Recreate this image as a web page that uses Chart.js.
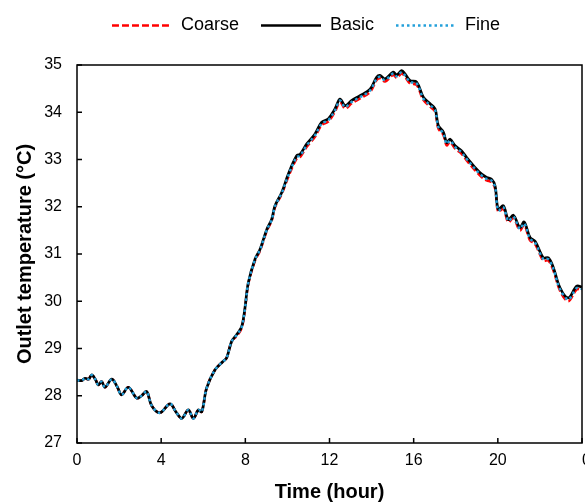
<!DOCTYPE html>
<html>
<head>
<meta charset="utf-8">
<script src="https://cdn.jsdelivr.net/npm/chart.js@4/dist/chart.umd.min.js"></script>
<style>
  body { margin: 0; background: #fff; }
</style>
</head>
<body>
<canvas id="tempChart" width="585" height="503"></canvas>
<script>
// time of day (hour) and outlet temperature (°C)
const hours = [0, 0.22, 0.38, 0.55, 0.70, 0.88, 1.01, 1.17, 1.33, 1.65,
  1.90, 2.12, 2.44, 2.84, 3.07, 3.31, 3.55, 3.94, 4.42, 4.70,
  4.98, 5.29, 5.53, 5.77, 5.93, 6.16, 6.56, 6.95, 7.11, 7.35,
  7.60, 7.83, 7.98, 8.14, 8.46, 8.70, 9.02, 9.25, 9.41, 9.73,
  10.04, 10.44, 10.60, 10.92, 11.31, 11.63, 11.94, 12.26, 12.50, 12.74,
  13.06, 13.45, 13.93, 14.24, 14.40, 14.64, 15.03, 15.19, 15.43, 15.59,
  15.83, 16.14, 16.46, 16.78, 17.02, 17.17, 17.41, 17.57, 17.73, 17.97,
  18.28, 18.52, 18.92, 19.23, 19.47, 19.71, 19.87, 20.02, 20.26, 20.50,
  20.74, 21.05, 21.25, 21.53, 21.77, 22.16, 22.40, 22.64, 22.96, 23.35,
  23.75, 24.00];

const basic = [28.33, 28.32, 28.37, 28.35, 28.44, 28.34, 28.23, 28.30, 28.18, 28.35,
  28.20, 28.02, 28.18, 27.95, 28.00, 28.09, 27.79, 27.64, 27.83, 27.66,
  27.52, 27.70, 27.52, 27.70, 27.66, 28.16, 28.55, 28.73, 28.80, 29.15,
  29.30, 29.47, 29.85, 30.39, 30.89, 31.10, 31.52, 31.73, 32.02, 32.30,
  32.69, 33.08, 33.11, 33.33, 33.54, 33.79, 33.86, 34.07, 34.28, 34.14,
  34.25, 34.35, 34.49, 34.74, 34.78, 34.71, 34.85, 34.79, 34.88, 34.81,
  34.67, 34.64, 34.32, 34.18, 34.07, 33.72, 33.58, 33.36, 33.43, 33.29,
  33.18, 33.04, 32.83, 32.69, 32.62, 32.58, 32.44, 31.95, 32.02, 31.73,
  31.82, 31.56, 31.68, 31.35, 31.27, 30.92, 30.92, 30.71, 30.28, 30.07,
  30.32, 30.30];

const coarse = [28.33, 28.32, 28.37, 28.35, 28.44, 28.34, 28.23, 28.30, 28.18, 28.35,
  28.20, 28.02, 28.18, 27.95, 28.00, 28.09, 27.79, 27.64, 27.83, 27.66,
  27.52, 27.70, 27.52, 27.70, 27.66, 28.16, 28.55, 28.73, 28.80, 29.15,
  29.27, 29.44, 29.82, 30.36, 30.86, 31.07, 31.49, 31.70, 31.99, 32.27,
  32.63, 33.02, 33.05, 33.27, 33.48, 33.73, 33.80, 34.01, 34.22, 34.08,
  34.19, 34.29, 34.43, 34.68, 34.72, 34.65, 34.79, 34.73, 34.82, 34.75,
  34.61, 34.58, 34.26, 34.12, 34.01, 33.66, 33.52, 33.30, 33.37, 33.23,
  33.12, 32.98, 32.77, 32.63, 32.56, 32.52, 32.38, 31.89, 31.96, 31.67,
  31.76, 31.50, 31.62, 31.29, 31.21, 30.86, 30.86, 30.65, 30.22, 30.00,
  30.25, 30.23];

const fine = [28.33, 28.32, 28.37, 28.35, 28.44, 28.34, 28.23, 28.30, 28.18, 28.35,
  28.20, 28.02, 28.18, 27.95, 28.00, 28.09, 27.79, 27.64, 27.83, 27.66,
  27.52, 27.70, 27.52, 27.70, 27.66, 28.16, 28.55, 28.73, 28.80, 29.15,
  29.29, 29.46, 29.84, 30.38, 30.88, 31.09, 31.51, 31.72, 32.01, 32.29,
  32.66, 33.05, 33.08, 33.30, 33.51, 33.76, 33.83, 34.04, 34.25, 34.11,
  34.22, 34.32, 34.46, 34.71, 34.75, 34.68, 34.82, 34.76, 34.85, 34.78,
  34.64, 34.61, 34.29, 34.15, 34.04, 33.69, 33.55, 33.33, 33.40, 33.26,
  33.15, 33.01, 32.80, 32.66, 32.59, 32.55, 32.41, 31.92, 31.99, 31.70,
  31.79, 31.53, 31.65, 31.32, 31.24, 30.89, 30.89, 30.68, 30.25, 30.04,
  30.28, 30.26];

const xTicks = [0, 4, 8, 12, 16, 20, 24];
const xTickLabels = ['0', '4', '8', '12', '16', '20', '0'];
const yTicks = [27, 28, 29, 30, 31, 32, 33, 34, 35];

Chart.defaults.font.family = '"Liberation Sans", Arial, sans-serif';
Chart.defaults.color = '#000';

function toPoints(values) {
  return hours.map((h, i) => ({ x: h, y: values[i] }));
}

// frame round the plot area plus short tick marks pointing inwards
const frame = {
  id: 'frame',
  afterDatasetsDraw(chart) {
    const { ctx, chartArea: a, scales } = chart;
    ctx.save();
    ctx.strokeStyle = '#000';
    ctx.lineWidth = 1.5;
    ctx.strokeRect(a.left, a.top, a.right - a.left, a.bottom - a.top);
    ctx.beginPath();
    xTicks.forEach((v) => {
      const px = scales.x.getPixelForValue(v);
      ctx.moveTo(px, a.bottom);
      ctx.lineTo(px, a.bottom - 5);
    });
    yTicks.forEach((v) => {
      const py = scales.y.getPixelForValue(v);
      ctx.moveTo(a.left, py);
      ctx.lineTo(a.left + 5, py);
    });
    ctx.stroke();
    ctx.restore();
  },
};

// the legend sits higher above the plot than Chart.js would place it
const legendUp = {
  id: 'legendUp',
  afterLayout(chart) {
    const lg = chart.legend;
    const h = lg.bottom - lg.top;
    lg.top = -5.5;
    lg.bottom = lg.top + h;
  },
};

new Chart(document.getElementById('tempChart'), {
  type: 'line',
  data: {
    datasets: [
      {
        label: 'Coarse',
        data: toPoints(coarse),
        borderColor: '#ff0000',
        borderWidth: 2.5,
        borderDash: [7, 3],
        order: 3,
      },
      {
        label: 'Basic',
        data: toPoints(basic),
        borderColor: '#000000',
        borderWidth: 2.7,
        order: 2,
      },
      {
        label: 'Fine',
        data: toPoints(fine),
        borderColor: '#23a0da',
        borderWidth: 2.5,
        borderDash: [2.5, 3],
        order: 1,
      },
    ],
  },
  options: {
    responsive: false,
    animation: false,
    layout: { padding: { left: 27, top: 0, right: 0, bottom: 0 } },
    elements: {
      point: { radius: 0 },
      line: { tension: 0.35, fill: false },
    },
    plugins: {
      legend: {
        position: 'top',
        align: 'center',
        labels: {
          usePointStyle: true,
          pointStyle: 'line',
          pointStyleWidth: 60,
          padding: 22,
          color: '#000',
          font: { size: 18 },
          sort: (a, b) => a.datasetIndex - b.datasetIndex,
          generateLabels: (chart) =>
            Chart.defaults.plugins.legend.labels.generateLabels(chart).map((item) => {
              const ds = chart.data.datasets[item.datasetIndex];
              item.lineDash = ds.borderDash || [];
              item.lineWidth = ds.borderWidth;
              item.strokeStyle = ds.borderColor;
              item.fillStyle = ds.borderColor;
              return item;
            }),
        },
      },
      tooltip: { enabled: false },
    },
    scales: {
      x: {
        type: 'linear',
        min: 0,
        max: 24,
        afterBuildTicks: (s) => {
          s.ticks = xTicks.map((v) => ({ value: v }));
        },
        afterFit: (s) => {
          s.height = 60;
          s.paddingLeft = 0;
          s.paddingRight = 3;
        },
        ticks: {
          autoSkip: false,
          maxRotation: 0,
          padding: 8,
          font: { size: 16 },
          callback: (v) => {
            const i = xTicks.indexOf(v);
            return i === xTicks.length - 1 ? '  ' + xTickLabels[i] : xTickLabels[i];
          },
        },
        grid: { display: false, drawTicks: false },
        border: { display: false },
        title: {
          display: true,
          text: 'Time (hour)',
          font: { size: 20, weight: 'bold', lineHeight: 1.1 },
          padding: { top: 0, bottom: 0 },
        },
      },
      y: {
        type: 'linear',
        min: 27,
        max: 35,
        afterBuildTicks: (s) => {
          s.ticks = yTicks.map((v) => ({ value: v }));
        },
        afterFit: (s) => {
          s.width = 50;
          s.paddingTop = 65;
          s.paddingBottom = 0;
        },
        ticks: {
          padding: 15,
          font: { size: 16 },
        },
        grid: { display: false, drawTicks: false },
        border: { display: false },
        title: {
          display: true,
          text: 'Outlet temperature (°C)',
          font: { size: 20, weight: 'bold', lineHeight: 1.2 },
          padding: { top: -14, bottom: 0 },
        },
      },
    },
  },
  plugins: [frame, legendUp],
});
</script>
</body>
</html>
